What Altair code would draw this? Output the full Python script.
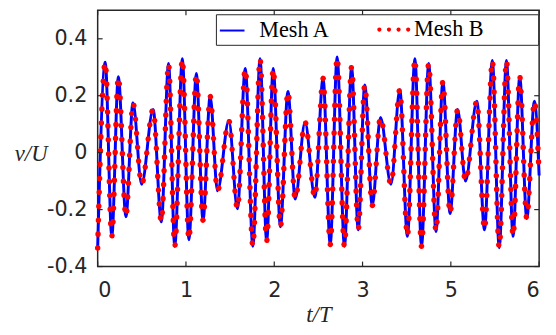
import altair as alt
import pandas as pd

# position along the drawn t/T axis (ticks are equally spaced and labelled 0,1,2,3,5,6)
t_pos = [0.000, 0.086, 0.160, 0.234, 0.320, 0.400, 0.498, 0.628, 0.721, 0.803,
         0.873, 0.959, 1.033, 1.118, 1.193, 1.274, 1.357, 1.486, 1.583, 1.672,
         1.758, 1.839, 1.914, 1.988, 2.070, 2.155, 2.237, 2.349, 2.460, 2.553,
         2.634, 2.712, 2.795, 2.876, 2.951, 3.025, 3.110, 3.203, 3.322, 3.422,
         3.508, 3.593, 3.668, 3.749, 3.832, 3.910, 3.991, 4.077, 4.166, 4.295,
         4.381, 4.470, 4.548, 4.630, 4.705, 4.780, 4.860, 4.947, 5.000]

mesh_a = [-0.335, 0.318, -0.294, 0.267, -0.225, 0.175, -0.111, 0.152, -0.243, 0.313,
          -0.329, 0.330, -0.306, 0.278, -0.237, 0.198, -0.134, 0.112, -0.197, 0.296,
          -0.329, 0.330, -0.311, 0.296, -0.260, 0.215, -0.163, 0.107, -0.157, 0.261,
          -0.323, 0.336, -0.329, 0.301, -0.271, 0.238, -0.186, 0.124, -0.111, 0.221,
          -0.294, 0.330, -0.329, 0.313, -0.277, 0.250, -0.214, 0.152, -0.100, 0.181,
          -0.271, 0.324, -0.334, 0.324, -0.294, 0.267, -0.231, 0.181, -0.080]

mesh_b = [-0.335, 0.318, -0.294, 0.267, -0.225, 0.175, -0.111, 0.152, -0.243, 0.313,
          -0.329, 0.330, -0.306, 0.278, -0.237, 0.198, -0.134, 0.112, -0.197, 0.296,
          -0.329, 0.330, -0.311, 0.296, -0.260, 0.215, -0.163, 0.107, -0.157, 0.261,
          -0.323, 0.336, -0.329, 0.301, -0.271, 0.238, -0.186, 0.124, -0.111, 0.221,
          -0.294, 0.330, -0.329, 0.313, -0.277, 0.250, -0.214, 0.152, -0.100, 0.181,
          -0.271, 0.324, -0.334, 0.324, -0.294, 0.267, -0.231, 0.181, -0.080]

series_names = ["Mesh A", "Mesh B"]
x_tick_values = [0, 1, 2, 3, 4, 5]
x_tick_labels = ["0", "1", "2", "3", "5", "6"]
y_tick_values = [-0.4, -0.2, 0, 0.2, 0.4]
y_tick_labels = ["-0.4", "-0.2", "0", "0.2", "0.4"]

W, H = 448, 260
AX = "#262626"
BLUE = "#0000ff"
RED = "#ff0000"

df_a = pd.DataFrame({"t": t_pos, "v": mesh_a, "sa": [series_names[0]] * len(t_pos)})
df_b = pd.DataFrame({"t": t_pos, "v": mesh_b, "sb": [series_names[1]] * len(t_pos)})

xscale = alt.Scale(domain=[0, 5], nice=False, zero=False)
yscale = alt.Scale(domain=[-0.4, 0.5], nice=False, zero=False)

x_expr = "[" + ",".join("'%s'" % s for s in x_tick_labels) + "][round(datum.value)]"
y_expr = "[" + ",".join("'%s'" % s for s in y_tick_labels) + "][round((datum.value + 0.4) / 0.2)]"

# legend symbol for the dotted series: a row of four small dots
def _dot(cx, r):
    return "M%.3f,0A%.3f,%.3f 0 1,0 %.3f,0A%.3f,%.3f 0 1,0 %.3f,0Z" % (cx - r, r, r, cx + r, r, r, cx - r)
dots_path = "".join(_dot(cx, 0.17) for cx in [-1.17, -0.39, 0.39, 1.17])

# invisible padding so the legend frame spans both entries (ZWSP stops trimming)
PAD = "\u00a0" * 37 + "\u200b"
common_leg = dict(
    title=None, orient="none", legendY=4, direction="horizontal", padding=3,
    symbolSize=625, labelFont="Liberation Serif", labelFontSize=22.5,
    labelColor="black", labelLimit=600,
)

x_axis = alt.Axis(values=x_tick_values, labelExpr=x_expr, title="t/T",
                  labelPadding=13, titleX=224, titleY=49, titleBaseline="middle")
y_axis = alt.Axis(values=y_tick_values, labelExpr=y_expr, title="v/U",
                  labelPadding=11, titleAngle=0, titleX=-68, titleY=145,
                  titleAlign="center", titleBaseline="middle")

line_a = alt.Chart(df_a).mark_line(
    interpolate="monotone", strokeWidth=3, strokeJoin="round"
).encode(
    x=alt.X("t:Q", scale=xscale, axis=x_axis),
    y=alt.Y("v:Q", scale=yscale, axis=y_axis),
    color=alt.Color("sa:N", scale=alt.Scale(domain=[series_names[0]], range=[BLUE]),
                    legend=alt.Legend(legendX=120, symbolType="stroke", symbolStrokeWidth=2,
                                      strokeColor=AX, fillColor="white", zindex=1,
                                      labelOffset=14,
                                      labelExpr="datum.label + '" + PAD + "'",
                                      **common_leg)),
)

line_b = alt.Chart(df_b).mark_line(
    interpolate="monotone", strokeWidth=5.5, strokeCap="round", strokeJoin="round",
    strokeDash=[0.1, 14],
).encode(
    x=alt.X("t:Q", scale=xscale),
    y=alt.Y("v:Q", scale=yscale),
    stroke=alt.Stroke("sb:N", scale=alt.Scale(domain=[series_names[1]], range=[RED]),
                      legend=alt.Legend(legendX=285, symbolType=dots_path, symbolStrokeWidth=0,
                                        symbolFillColor=RED, fillColor="transparent", zindex=2,
                                        labelOffset=8, **common_leg)),
)

ytick_df = pd.DataFrame({"v": y_tick_values})
xtick_df = pd.DataFrame({"t": x_tick_values})

left_ticks = alt.Chart(ytick_df).mark_rule(color=AX, strokeWidth=1.2).encode(
    y=alt.Y("v:Q", scale=yscale), x=alt.value(0), x2=alt.value(5))
right_ticks = alt.Chart(ytick_df).mark_rule(color=AX, strokeWidth=1.2).encode(
    y=alt.Y("v:Q", scale=yscale), x=alt.value(W - 5), x2=alt.value(W))
bottom_ticks = alt.Chart(xtick_df).mark_rule(color=AX, strokeWidth=1.2).encode(
    x=alt.X("t:Q", scale=xscale), y=alt.value(H - 5), y2=alt.value(H))
top_ticks = alt.Chart(xtick_df).mark_rule(color=AX, strokeWidth=1.2).encode(
    x=alt.X("t:Q", scale=xscale), y=alt.value(0), y2=alt.value(5))

chart = alt.layer(line_a, line_b, left_ticks, right_ticks, bottom_ticks, top_ticks).properties(
    width=W, height=H,
    autosize=alt.AutoSizeParams(type="none"),
    padding={"left": 91, "top": 0, "right": 9, "bottom": 59},
    background="white",
).configure_view(
    stroke=AX, strokeWidth=1.5
).configure_axis(
    domain=False, ticks=False, tickSize=0, grid=False,
    labelFont="DejaVu Sans", labelFontSize=21, labelColor=AX,
    titleFont="Liberation Serif", titleFontStyle="italic", titleFontWeight="normal",
    titleFontSize=23, titleColor=AX,
).configure_legend(cornerRadius=0)

chart.save("out.html", embed_options={"renderer": "svg", "actions": False})
